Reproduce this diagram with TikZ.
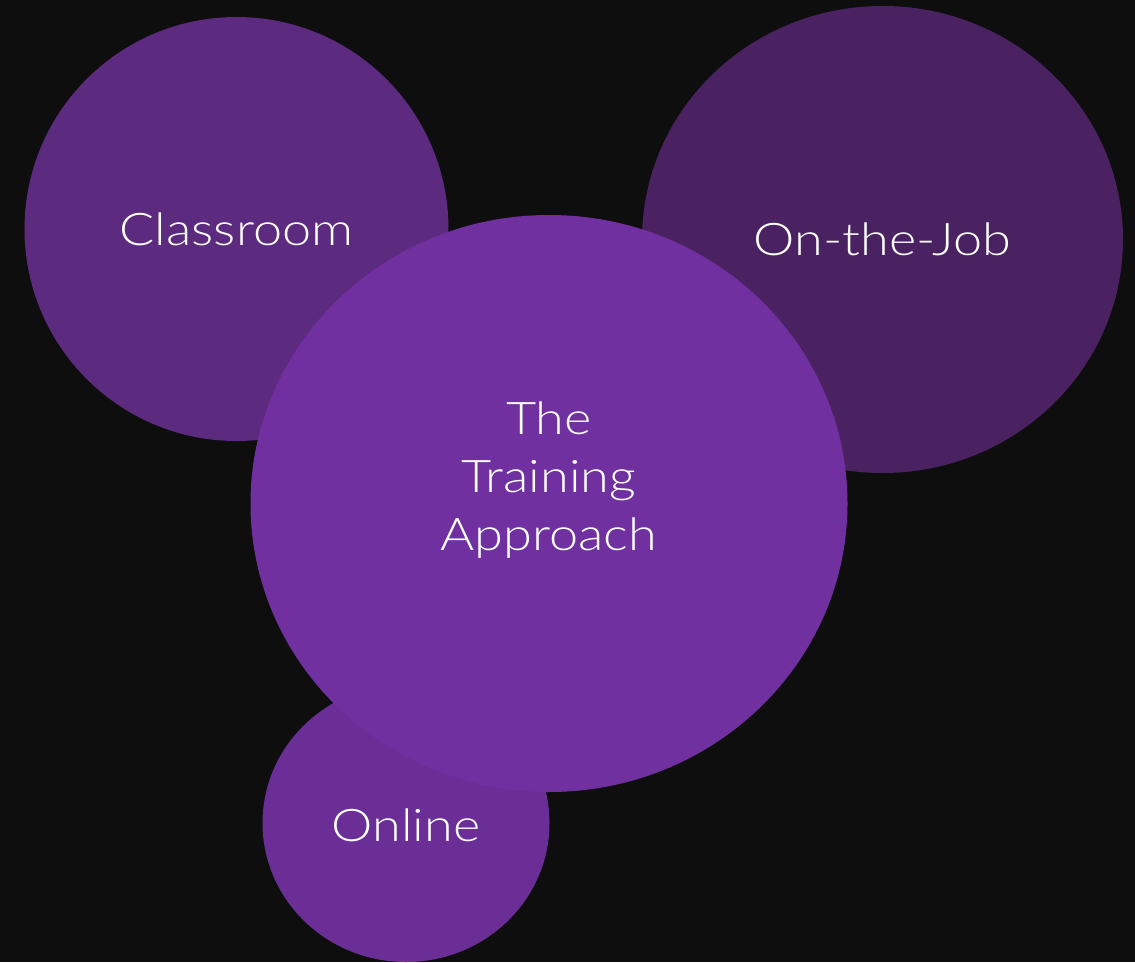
\documentclass[tikz,border=0pt]{standalone}
\usepackage{fontspec}
\setmainfont{Lato}[UprightFont=* Light, FakeStretch=1.16]
\usetikzlibrary{shapes.geometric}
\begin{document}
\definecolor{bgdark}{HTML}{0E0E0E}
\definecolor{purpleA}{HTML}{5C2A7E}
\definecolor{purpleB}{HTML}{4A2262}
\definecolor{purpleC}{HTML}{6A2E96}
\definecolor{purpleMain}{HTML}{7030A0}
\begin{tikzpicture}[x=1pt,y=-1pt,
  bubble/.style n args={2}{ellipse,inner sep=0pt,minimum width=#1,minimum height=#2},
  label/.style={text=white,font=\fontsize{45}{58}\selectfont,align=center}]
  \fill[bgdark] (0,0) rectangle (1135,962);
  \useasboundingbox (0,0) rectangle (1135,962);
  \begin{scope}
    \clip (0,0) rectangle (1135,962);
    \node[bubble={424pt}{424pt},fill=purpleA] (classroom) at (236.5,229) {};
    \node[bubble={481pt}{467pt},fill=purpleB] (job) at (882.5,239.5) {};
    \node[bubble={287pt}{278pt},fill=purpleC] (online) at (406,823) {};
    \node[bubble={597pt}{577pt},fill=purpleMain] (core) at (549,503.5) {};
  \end{scope}
  \node[label] (classroomtext) at (classroom) {Classroom};
  \node[label] (jobtext) at (job) {On-the-Job};
  \node[label] (onlinetext) at ([yshift=-2pt]online.center) {Online};
  \node[label] (coretext) at ([yshift=23pt]core.center) {The\\Training\\Approach};
\end{tikzpicture}
\end{document}
